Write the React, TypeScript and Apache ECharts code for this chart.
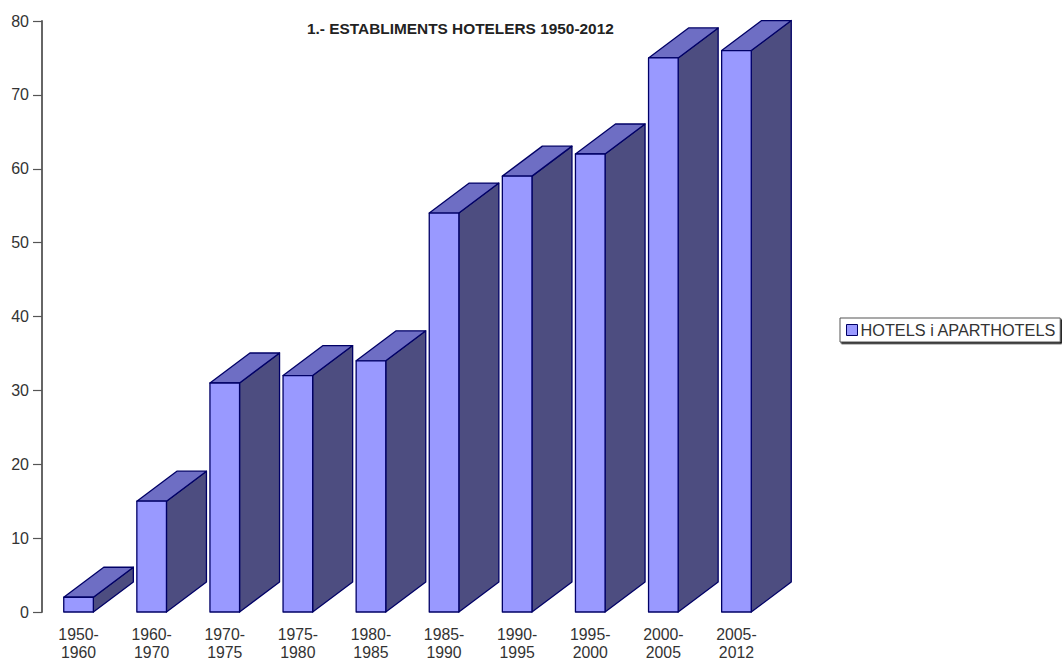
import React, { useEffect, useRef } from "react";
import * as echarts from "echarts";

const periods = [
  "1950-\n1960", "1960-\n1970", "1970-\n1975", "1975-\n1980", "1980-\n1985",
  "1985-\n1990", "1990-\n1995", "1995-\n2000", "2000-\n2005", "2005-\n2012",
];
const establishments = [2, 15, 31, 32, 34, 54, 59, 62, 75, 76];
const valueTicks = { min: 0, max: 80, interval: 10 };
const seriesName = "HOTELS i APARTHOTELS";
const chartTitle = "1.- ESTABLIMENTS HOTELERS 1950-2012";

const FRONT = "#9999ff";
const SIDE = "#4d4d80";
const TOP = "#6e6ec4";
const EDGE = "#000066";
const DEPTH_X = 40;
const DEPTH_Y = -30;

// Each bar is an extruded prism: top and side faces sit behind the front rectangle.
function renderPrism(_params: any, api: any) {
  const category = api.value(0);
  const [cx, yTop] = api.coord([category, api.value(1)]);
  const [, yBase] = api.coord([category, 0]);
  const width = api.size([1, 0])[0] * 0.405;
  const x0 = cx - width / 2;
  const x1 = cx + width / 2;
  const edge = { stroke: EDGE, lineWidth: 1.3, lineJoin: "round" };
  return {
    type: "group",
    children: [
      {
        type: "polygon",
        shape: { points: [[x1, yTop], [x1 + DEPTH_X, yTop + DEPTH_Y], [x1 + DEPTH_X, yBase + DEPTH_Y], [x1, yBase]] },
        style: { fill: SIDE, ...edge },
      },
      {
        type: "polygon",
        shape: { points: [[x0, yTop], [x0 + DEPTH_X, yTop + DEPTH_Y], [x1 + DEPTH_X, yTop + DEPTH_Y], [x1, yTop]] },
        style: { fill: TOP, ...edge },
      },
      {
        type: "rect",
        shape: { x: x0, y: yTop, width, height: yBase - yTop },
        style: { fill: FRONT, ...edge },
      },
    ],
  };
}

export default function App() {
  const ref = useRef<HTMLDivElement>(null);

  useEffect(() => {
    const chart = echarts.init(ref.current!, null, { renderer: "svg" });
    chart.setOption({
      animation: false,
      backgroundColor: "#ffffff",
      textStyle: { fontFamily: "Liberation Sans" },
      title: {
        text: chartTitle,
        left: 307,
        top: 21,
        padding: 0,
        textStyle: { fontSize: 15.4, fontWeight: "bold", color: "#222222", fontFamily: "Liberation Sans" },
      },
      legend: {
        left: 840,
        top: 318,
        padding: [4, 4, 4, 6],
        itemWidth: 11,
        itemHeight: 11,
        itemGap: 0,
        icon: "rect",
        backgroundColor: "#ffffff",
        borderColor: "#555555",
        borderWidth: 1,
        shadowColor: "#111111",
        shadowOffsetX: 1.5,
        shadowOffsetY: 1.5,
        shadowBlur: 0,
        data: [{ name: seriesName, itemStyle: { color: FRONT, borderColor: EDGE, borderWidth: 1 } }],
        textStyle: { fontSize: 16.3, color: "#333333", padding: [0, 0, 0, -2], fontFamily: "Liberation Sans" },
      },
      grid: { left: 42, top: 21, width: 731, height: 591 },
      xAxis: {
        type: "category",
        data: periods,
        axisLine: { show: false },
        axisTick: { show: false },
        axisLabel: { color: "#333333", fontSize: 15.8, lineHeight: 18, margin: 13, interval: 0 },
      },
      yAxis: {
        type: "value",
        ...valueTicks,
        splitLine: { show: false },
        axisLine: { show: true, lineStyle: { color: "#666666", width: 2 } },
        axisTick: { show: true, length: 9, lineStyle: { color: "#555555", width: 1.2 } },
        axisLabel: { color: "#333333", fontSize: 16, margin: 13 },
      },
      series: [
        {
          type: "custom",
          name: seriesName,
          clip: false,
          itemStyle: { color: FRONT },
          encode: { x: 0, y: 1 },
          data: establishments.map((v, i) => [i, v]),
          renderItem: renderPrism,
        },
      ],
    });
    return () => chart.dispose();
  }, []);

  return <div ref={ref} style={{ position: "absolute", left: 0, top: 0, width: 1062, height: 662 }} />;
}
